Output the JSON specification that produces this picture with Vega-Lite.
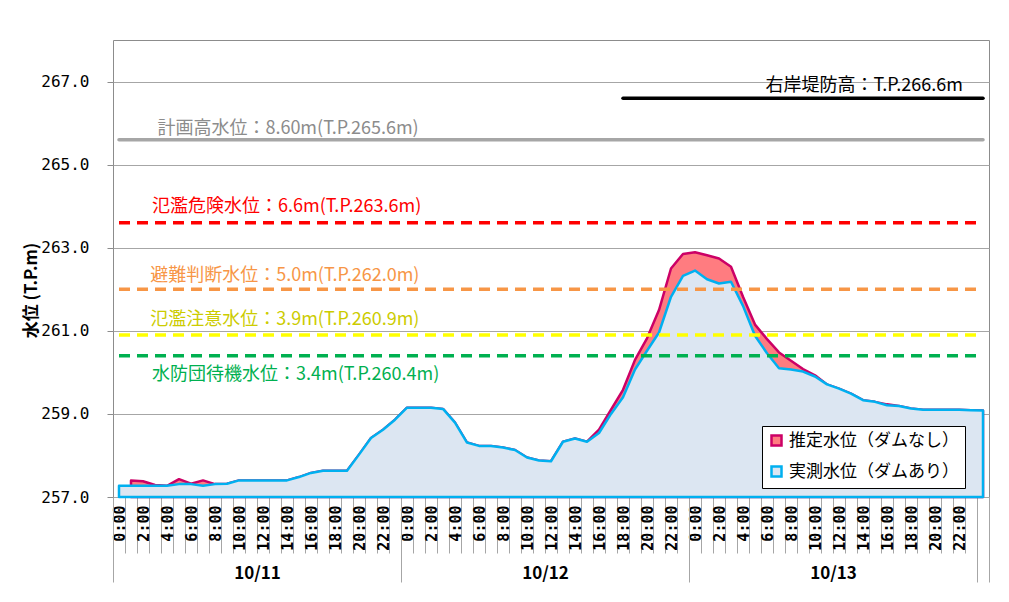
{
  "$schema": "https://vega.github.io/schema/vega-lite/v6.json",
  "width": 876,
  "height": 457,
  "autosize": "none",
  "padding": {"left": 113, "top": 40, "right": 20, "bottom": 105},
  "background": "white",
  "config": {"view": {"stroke": "#8c8c8c", "strokeWidth": 1}, "font": "Noto Sans CJK JP"},
  "data": {"values": [
    {"h": 0, "obs": 257.27, "est": null},
    {"h": 1, "obs": 257.27, "est": 257.40},
    {"h": 2, "obs": 257.27, "est": 257.38},
    {"h": 3, "obs": 257.27, "est": 257.29},
    {"h": 4, "obs": 257.27, "est": 257.27},
    {"h": 5, "obs": 257.31, "est": 257.43},
    {"h": 6, "obs": 257.31, "est": 257.32},
    {"h": 7, "obs": 257.27, "est": 257.40},
    {"h": 8, "obs": 257.31, "est": 257.31},
    {"h": 9, "obs": 257.32, "est": 257.32},
    {"h": 10, "obs": 257.40, "est": 257.40},
    {"h": 11, "obs": 257.40, "est": 257.40},
    {"h": 12, "obs": 257.40, "est": 257.40},
    {"h": 13, "obs": 257.40, "est": 257.40},
    {"h": 14, "obs": 257.40, "est": 257.40},
    {"h": 15, "obs": 257.48, "est": 257.48},
    {"h": 16, "obs": 257.58, "est": 257.58},
    {"h": 17, "obs": 257.63, "est": 257.63},
    {"h": 18, "obs": 257.63, "est": 257.63},
    {"h": 19, "obs": 257.63, "est": 257.63},
    {"h": 20, "obs": 258.02, "est": 258.02},
    {"h": 21, "obs": 258.42, "est": 258.42},
    {"h": 22, "obs": 258.62, "est": 258.62},
    {"h": 23, "obs": 258.86, "est": 258.86},
    {"h": 24, "obs": 259.15, "est": 259.15},
    {"h": 25, "obs": 259.15, "est": 259.15},
    {"h": 26, "obs": 259.15, "est": 259.15},
    {"h": 27, "obs": 259.12, "est": 259.12},
    {"h": 28, "obs": 258.79, "est": 258.79},
    {"h": 29, "obs": 258.31, "est": 258.31},
    {"h": 30, "obs": 258.23, "est": 258.23},
    {"h": 31, "obs": 258.23, "est": 258.23},
    {"h": 32, "obs": 258.19, "est": 258.19},
    {"h": 33, "obs": 258.13, "est": 258.13},
    {"h": 34, "obs": 257.95, "est": 257.95},
    {"h": 35, "obs": 257.88, "est": 257.88},
    {"h": 36, "obs": 257.86, "est": 257.86},
    {"h": 37, "obs": 258.33, "est": 258.33},
    {"h": 38, "obs": 258.41, "est": 258.41},
    {"h": 39, "obs": 258.33, "est": 258.33},
    {"h": 40, "obs": 258.54, "est": 258.62},
    {"h": 41, "obs": 259.00, "est": 259.10},
    {"h": 42, "obs": 259.40, "est": 259.58},
    {"h": 43, "obs": 260.07, "est": 260.30},
    {"h": 44, "obs": 260.52, "est": 260.82},
    {"h": 45, "obs": 260.96, "est": 261.50},
    {"h": 46, "obs": 261.82, "est": 262.50},
    {"h": 47, "obs": 262.32, "est": 262.85},
    {"h": 48, "obs": 262.45, "est": 262.89},
    {"h": 49, "obs": 262.24, "est": 262.82},
    {"h": 50, "obs": 262.14, "est": 262.74},
    {"h": 51, "obs": 262.18, "est": 262.54},
    {"h": 52, "obs": 261.60, "est": 261.82},
    {"h": 53, "obs": 260.88, "est": 261.15},
    {"h": 54, "obs": 260.46, "est": 260.80},
    {"h": 55, "obs": 260.10, "est": 260.48},
    {"h": 56, "obs": 260.07, "est": 260.28},
    {"h": 57, "obs": 260.02, "est": 260.08},
    {"h": 58, "obs": 259.90, "est": 259.93},
    {"h": 59, "obs": 259.71, "est": 259.71},
    {"h": 60, "obs": 259.61, "est": 259.61},
    {"h": 61, "obs": 259.49, "est": 259.49},
    {"h": 62, "obs": 259.33, "est": 259.33},
    {"h": 63, "obs": 259.29, "est": 259.29},
    {"h": 64, "obs": 259.21, "est": 259.23},
    {"h": 65, "obs": 259.19, "est": 259.19},
    {"h": 66, "obs": 259.13, "est": 259.13},
    {"h": 67, "obs": 259.10, "est": 259.10},
    {"h": 68, "obs": 259.10, "est": 259.10},
    {"h": 69, "obs": 259.10, "est": 259.10},
    {"h": 70, "obs": 259.10, "est": 259.10},
    {"h": 71, "obs": 259.09, "est": 259.09},
    {"h": 72, "obs": 259.08, "est": 259.08}
  ]},
  "layer": [
    {
      "transform": [{"filter": "datum.est != null"}],
      "mark": {"type": "area", "strokeWidth": 2.5, "strokeJoin": "round", "opacity": 1, "fillOpacity": 1},
      "encoding": {
        "x": {"field": "h", "type": "quantitative", "scale": {"domain": [-0.5, 72.5], "nice": false, "zero": false},
          "axis": {"orient": "bottom", "values": [-0.5,0.5,1.5,2.5,3.5,4.5,5.5,6.5,7.5,8.5,9.5,10.5,11.5,12.5,13.5,14.5,15.5,16.5,17.5,18.5,19.5,20.5,21.5,22.5,23.5,24.5,25.5,26.5,27.5,28.5,29.5,30.5,31.5,32.5,33.5,34.5,35.5,36.5,37.5,38.5,39.5,40.5,41.5,42.5,43.5,44.5,45.5,46.5,47.5,48.5,49.5,50.5,51.5,52.5,53.5,54.5,55.5,56.5,57.5,58.5,59.5,60.5,61.5,62.5,63.5,64.5,65.5,66.5,67.5,68.5,69.5,70.5,71.5,72.5],
            "tickSize": 56, "tickColor": "#a6a6a6", "tickWidth": 1, "labels": false, "domain": false, "grid": false, "title": null}},
        "y": {"field": "est", "type": "quantitative", "scale": {"domain": [257, 268], "nice": false, "zero": false},
          "axis": {"orient": "left", "values": [257, 259, 261, 263, 265, 267], "format": ".1f", "grid": true, "gridColor": "#a6a6a6", "gridWidth": 1,
            "domain": false, "tickSize": 6, "tickColor": "#8c8c8c", "labelFont": "DejaVu Sans Mono", "labelFontSize": 16,
            "labelColor": "#000000", "labelPadding": 18, "title": "水位 (T.P.m)", "titleFont": "Noto Sans CJK JP",
            "titleFontSize": 17, "titleFontWeight": "bold", "titleColor": "#000000", "titleX": -73, "titleY": 250,
            "titleAngle": 270, "titleAlign": "center", "titleBaseline": "bottom"}},
        "y2": {"datum": 257},
        "fill": {"datum": "推定水位（ダムなし）", "type": "nominal",
          "scale": {"domain": ["推定水位（ダムなし）", "実測水位（ダムあり）"], "range": ["#FF7C80", "#DCE6F2"]},
          "legend": {"title": null, "orient": "none", "legendX": 649, "legendY": 386, "fillColor": "#ffffff", "strokeColor": "#000000",
            "padding": 6, "rowPadding": 10, "labelFont": "Noto Sans CJK JP", "labelFontSize": 17, "labelColor": "#000000", "labelLimit": 300,
            "symbolType": "square", "symbolSize": 100, "symbolStrokeWidth": 2.5, "labelOffset": 4}},
        "stroke": {"datum": "推定水位（ダムなし）", "type": "nominal",
          "scale": {"domain": ["推定水位（ダムなし）", "実測水位（ダムあり）"], "range": ["#CC0066", "#00B0F0"]},
          "legend": {"title": null, "orient": "none", "legendX": 649, "legendY": 386, "fillColor": "#ffffff", "strokeColor": "#000000",
            "padding": 6, "rowPadding": 10, "labelFont": "Noto Sans CJK JP", "labelFontSize": 17, "labelColor": "#000000", "labelLimit": 300,
            "symbolType": "square", "symbolSize": 100, "symbolStrokeWidth": 2.5, "labelOffset": 4}}
      }
    },
    {
      "mark": {"type": "area", "strokeWidth": 2.5, "strokeJoin": "round", "opacity": 1, "fillOpacity": 1},
      "encoding": {
        "x": {"field": "h", "type": "quantitative", "scale": {"domain": [-0.5, 72.5], "nice": false, "zero": false},
          "axis": {"orient": "bottom", "values": [0,2,4,6,8,10,12,14,16,18,20,22,24,26,28,30,32,34,36,38,40,42,44,46,48,50,52,54,56,58,60,62,64,66,68,70],
            "ticks": false, "domain": false, "grid": false, "labelAngle": 270, "labelExpr": "(datum.value % 24) + ':00'",
            "labelFont": "DejaVu Sans Mono", "labelFontSize": 15, "labelFontWeight": "bold", "labelColor": "#000000",
            "labelPadding": 8, "labelFlush": false, "labelOverlap": false, "title": null}},
        "y": {"field": "obs", "type": "quantitative", "scale": {"domain": [257, 268], "nice": false, "zero": false}, "axis": null},
        "y2": {"datum": 257},
        "fill": {"datum": "実測水位（ダムあり）", "type": "nominal",
          "scale": {"domain": ["推定水位（ダムなし）", "実測水位（ダムあり）"], "range": ["#FF7C80", "#DCE6F2"]},
          "legend": {"title": null, "orient": "none", "legendX": 649, "legendY": 386, "fillColor": "#ffffff", "strokeColor": "#000000",
            "padding": 6, "rowPadding": 10, "labelFont": "Noto Sans CJK JP", "labelFontSize": 17, "labelColor": "#000000", "labelLimit": 300,
            "symbolType": "square", "symbolSize": 100, "symbolStrokeWidth": 2.5, "labelOffset": 4}},
        "stroke": {"datum": "実測水位（ダムあり）", "type": "nominal",
          "scale": {"domain": ["推定水位（ダムなし）", "実測水位（ダムあり）"], "range": ["#CC0066", "#00B0F0"]},
          "legend": {"title": null, "orient": "none", "legendX": 649, "legendY": 386, "fillColor": "#ffffff", "strokeColor": "#000000",
            "padding": 6, "rowPadding": 10, "labelFont": "Noto Sans CJK JP", "labelFontSize": 17, "labelColor": "#000000", "labelLimit": 300,
            "symbolType": "square", "symbolSize": 100, "symbolStrokeWidth": 2.5, "labelOffset": 4}}
      }
    },
    {
      "data": {"values": [{"level": 265.6}]},
      "mark": {"type": "rule", "color": "#A6A6A6", "strokeWidth": 3.5, "strokeCap": "round"},
      "encoding": {
        "x": {"datum": 0, "type": "quantitative", "scale": {"domain": [-0.5, 72.5], "nice": false, "zero": false},
          "axis": {"orient": "bottom", "values": [-0.5, 23.5, 47.5, 71.5, 72.5], "tickSize": 85, "tickColor": "#a6a6a6", "tickWidth": 1,
            "labels": false, "domain": false, "grid": false, "title": null}},
        "x2": {"datum": 72},
        "y": {"field": "level", "type": "quantitative", "scale": {"domain": [257, 268], "nice": false, "zero": false}, "axis": null}
      }
    },
    {
      "data": {"values": [{"level": 265.6, "label": "計画高水位：8.60m(T.P.265.6m)"}]},
      "mark": {"type": "text", "color": "#8C8C8C", "font": "Noto Sans CJK JP", "fontSize": 18, "align": "left", "baseline": "middle", "dy": -11},
      "encoding": {
        "x": {"datum": 3.2, "type": "quantitative", "scale": {"domain": [-0.5, 72.5], "nice": false, "zero": false},
          "axis": {"orient": "bottom", "values": [11.5, 35.5, 59.5], "ticks": false, "domain": false, "grid": false,
            "labelExpr": "datum.value < 24 ? '10/11' : datum.value < 48 ? '10/12' : '10/13'",
            "labelFont": "Noto Sans CJK JP", "labelFontSize": 17, "labelFontWeight": "bold", "labelColor": "#000000",
            "labelPadding": 76, "labelBaseline": "middle", "labelFlush": false, "labelOverlap": false, "title": null}},
        "y": {"field": "level", "type": "quantitative", "scale": {"domain": [257, 268], "nice": false, "zero": false}, "axis": null},
        "text": {"field": "label"}
      }
    },
    {
      "data": {"values": [{"level": 266.6, "label": "右岸堤防高：T.P.266.6m"}]},
      "layer": [
        {"mark": {"type": "rule", "color": "#000000", "strokeWidth": 3.5, "strokeCap": "round"},
         "encoding": {"x": {"datum": 42, "type": "quantitative", "axis": null}, "x2": {"datum": 72},
           "y": {"field": "level", "type": "quantitative", "axis": null}}},
        {"mark": {"type": "text", "color": "#000000", "font": "Noto Sans CJK JP", "fontSize": 18, "align": "right", "baseline": "middle", "dy": -12},
         "encoding": {"x": {"datum": 70.33, "type": "quantitative", "axis": null},
           "y": {"field": "level", "type": "quantitative", "axis": null}, "text": {"field": "label"}}}
      ]
    },
    {
      "data": {"values": [{"level": 263.6, "label": "氾濫危険水位：6.6m(T.P.263.6m)"}]},
      "layer": [
        {"mark": {"type": "rule", "color": "#FF0000", "strokeWidth": 3.5, "strokeDash": [11, 7]},
         "encoding": {"x": {"datum": 0, "type": "quantitative", "axis": null}, "x2": {"datum": 72},
           "y": {"field": "level", "type": "quantitative", "axis": null}}},
        {"mark": {"type": "text", "color": "#FF0000", "font": "Noto Sans CJK JP", "fontSize": 18, "align": "left", "baseline": "middle", "dy": -16},
         "encoding": {"x": {"datum": 2.75, "type": "quantitative", "axis": null},
           "y": {"field": "level", "type": "quantitative", "axis": null}, "text": {"field": "label"}}}
      ]
    },
    {
      "data": {"values": [{"level": 262.0, "label": "避難判断水位：5.0m(T.P.262.0m)"}]},
      "layer": [
        {"mark": {"type": "rule", "color": "#F79646", "strokeWidth": 3.5, "strokeDash": [11, 7]},
         "encoding": {"x": {"datum": 0, "type": "quantitative", "axis": null}, "x2": {"datum": 72},
           "y": {"field": "level", "type": "quantitative", "axis": null}}},
        {"mark": {"type": "text", "color": "#F79646", "font": "Noto Sans CJK JP", "fontSize": 18, "align": "left", "baseline": "middle", "dy": -13},
         "encoding": {"x": {"datum": 2.6, "type": "quantitative", "axis": null},
           "y": {"field": "level", "type": "quantitative", "axis": null}, "text": {"field": "label"}}}
      ]
    },
    {
      "data": {"values": [{"level": 260.9, "label": "氾濫注意水位：3.9m(T.P.260.9m)"}]},
      "layer": [
        {"mark": {"type": "rule", "color": "#FFFF00", "strokeWidth": 3.5, "strokeDash": [11, 7]},
         "encoding": {"x": {"datum": 0, "type": "quantitative", "axis": null}, "x2": {"datum": 72},
           "y": {"field": "level", "type": "quantitative", "axis": null}}},
        {"mark": {"type": "text", "color": "#CCCC00", "font": "Noto Sans CJK JP", "fontSize": 18, "align": "left", "baseline": "middle", "dy": -15},
         "encoding": {"x": {"datum": 2.6, "type": "quantitative", "axis": null},
           "y": {"field": "level", "type": "quantitative", "axis": null}, "text": {"field": "label"}}}
      ]
    },
    {
      "data": {"values": [{"level": 260.4, "label": "水防団待機水位：3.4m(T.P.260.4m)"}]},
      "layer": [
        {"mark": {"type": "rule", "color": "#00B050", "strokeWidth": 3.5, "strokeDash": [11, 7]},
         "encoding": {"x": {"datum": 0, "type": "quantitative", "axis": null}, "x2": {"datum": 72},
           "y": {"field": "level", "type": "quantitative", "axis": null}}},
        {"mark": {"type": "text", "color": "#00B050", "font": "Noto Sans CJK JP", "fontSize": 18, "align": "left", "baseline": "middle", "dy": 19},
         "encoding": {"x": {"datum": 2.75, "type": "quantitative", "axis": null},
           "y": {"field": "level", "type": "quantitative", "axis": null}, "text": {"field": "label"}}}
      ]
    }
  ],
  "resolve": {"axis": {"x": "independent", "y": "independent"}}
}
